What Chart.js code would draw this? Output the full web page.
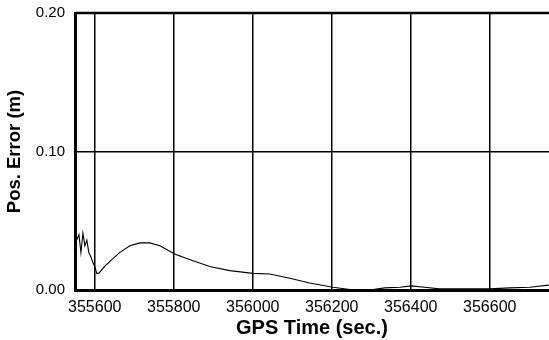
<!DOCTYPE html>
<html>
<head>
<meta charset="utf-8">
<script src="https://cdn.jsdelivr.net/npm/chart.js@4/dist/chart.umd.min.js"></script>
<style>
  html, body { margin: 0; padding: 0; background: #fff; overflow: hidden; }
  #wrap { width: 549px; height: 346px; margin-top: -6px; }
</style>
</head>
<body>
<div id="wrap"><canvas id="errChart"></canvas></div>
<script>
// GPS time (s) and position error (m)
const gpsTime = [
  355549, 355554, 355560, 355565, 355570, 355575, 355580, 355585, 355590, 355595,
  355600, 355605, 355610, 355625, 355643, 355663, 355689, 355714, 355739, 355765,
  355790, 355802, 355840, 355891, 355942, 356000, 356043, 356094, 356144, 356203,
  356246, 356296, 356334, 356372, 356402, 356435, 356473, 356524, 356600, 356651,
  356701, 356749
];
const posError = [
  0.042, 0.036, 0.040, 0.027, 0.041, 0.032, 0.036, 0.027, 0.024, 0.020,
  0.017, 0.012, 0.012, 0.017, 0.022, 0.027, 0.032, 0.034, 0.034, 0.032,
  0.028, 0.026, 0.022, 0.017, 0.014, 0.012, 0.0115, 0.0085, 0.005, 0.002,
  0.0004, 0.0, 0.0015, 0.002, 0.003, 0.002, 0.0008, 0.0008, 0.0008, 0.0015,
  0.002, 0.0035
];
const xTicks = [355600, 355800, 356000, 356200, 356400, 356600];
const yTicks = [0.00, 0.10, 0.20];

const font = 'Liberation Sans, Arial, sans-serif';

// heavy line along the top of the plot area
const topEdge = {
  id: 'topEdge',
  afterDraw(chart) {
    const { ctx, chartArea: a } = chart;
    ctx.save();
    ctx.strokeStyle = '#000';
    ctx.lineWidth = 2.5;
    ctx.beginPath();
    ctx.moveTo(a.left, a.top);
    ctx.lineTo(a.right, a.top);
    ctx.stroke();
    ctx.restore();
  }
};

new Chart(document.getElementById('errChart'), {
  type: 'line',
  data: {
    datasets: [{
      data: gpsTime.map((t, i) => ({ x: t, y: posError[i] })),
      borderColor: '#000',
      borderWidth: 1.1,
      pointRadius: 0,
      tension: 0,
      fill: false,
    }],
  },
  options: {
    responsive: true,
    maintainAspectRatio: false,
    animation: false,
    layout: { padding: { top: 0, right: 0, left: 0, bottom: 0 } },
    plugins: {
      legend: { display: false },
      tooltip: { enabled: false },
    },
    scales: {
      x: {
        type: 'linear',
        min: 355550,
        max: 356750,
        afterFit: s => { s.height = 50; },
        afterBuildTicks: s => { s.ticks = xTicks.map(v => ({ value: v })); },
        ticks: {
          color: '#000',
          font: { family: font, size: 16 },
          padding: 8,
          maxRotation: 0,
          autoSkip: false,
          callback: v => String(v),
        },
        grid: { color: '#000', lineWidth: 1.5, drawTicks: false },
        border: { color: '#000', width: 3 },
        title: {
          display: true,
          text: 'GPS Time (sec.)',
          color: '#000',
          font: { family: font, size: 20, weight: 'bold' },
          padding: { top: 0, bottom: 0 },
        },
      },
      y: {
        min: 0,
        max: 0.2,
        afterFit: s => { s.width = 75; },
        afterBuildTicks: s => { s.ticks = yTicks.map(v => ({ value: v })); },
        ticks: {
          color: '#000',
          font: { family: font, size: 15 },
          padding: 10,
          callback: v => v.toFixed(2),
        },
        grid: { color: '#000', lineWidth: 1.5, drawTicks: false },
        border: { color: '#000', width: 3 },
        title: {
          display: true,
          text: 'Pos. Error (m)',
          color: '#000',
          font: { family: font, size: 18.5, weight: 'bold' },
          padding: { top: 4, bottom: 0 },
        },
      },
    },
  },
  plugins: [topEdge],
});
</script>
</body>
</html>
